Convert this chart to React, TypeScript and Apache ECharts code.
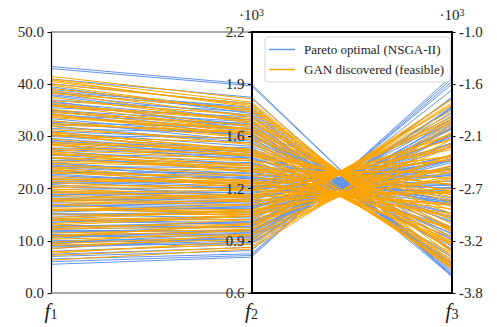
import React, { useEffect, useRef } from "react";
import * as echarts from "echarts";

// Tick values (f2, f3 shown in units of 10^3)
const F1_TICKS = [0, 10, 20, 30, 40, 50];
const F2_TICKS = [0.6, 0.92, 1.24, 1.56, 1.88, 2.2];
const F3_TICKS = [-3.8, -3.24, -2.68, -2.12, -1.56, -1.0];
const AXIS_SUBSCRIPTS = ["1", "2", "3"];
const SERIES_NAMES = ["Pareto optimal (NSGA-II)", "GAN discovered (feasible)"];

// Pareto optimal (NSGA-II)
const paretoF1 = [43.4, 43.0, 40.1, 39.5, 38.6, 37.8, 37.0, 36.2, 35.5, 34.8, 34.0, 33.4, 32.7, 32.0, 31.5, 30.8, 30.2, 29.6, 29.0, 28.4, 27.8, 27.2, 26.6, 26.0, 25.4, 24.8, 24.2, 23.6, 23.0, 22.5, 22.0, 21.5, 21.0, 20.4, 19.8, 19.3, 18.8, 18.2, 17.6, 17.0, 16.5, 16.0, 15.5, 15.0, 14.5, 14.0, 13.5, 13.0, 12.5, 12.0, 11.5, 11.0, 10.5, 10.0, 9.5, 9.0, 8.5, 8.0, 7.4, 7.0, 6.5, 6.0, 5.5,
  41.0, 38.0, 35.0, 33.0, 31.0, 29.3, 27.5, 25.8, 24.0, 22.8, 21.2, 19.5, 18.0, 16.8, 15.2, 13.8, 12.2, 11.2, 9.8, 8.8,
  36.8, 34.4, 30.0, 26.4, 20.8, 17.3, 14.2, 10.8, 39.0, 28.8, 23.3, 19.0, 12.8, 32.4, 25.0, 15.8, 9.2,
  18.5, 21.8, 15.0, 24.5, 11.8, 9.6, 38.4, 36.5, 35.0];
const paretoF2 = [1.88, 1.87, 1.76, 1.70, 1.74, 1.66, 1.71, 1.63, 1.68, 1.59, 1.64, 1.56, 1.61, 1.52, 1.58, 1.50, 1.55, 1.46, 1.49, 1.42, 1.47, 1.39, 1.43, 1.36, 1.40, 1.33, 1.37, 1.30, 1.34, 1.27, 1.31, 1.24, 1.28, 1.21, 1.25, 1.18, 1.22, 1.15, 1.19, 1.12, 1.16, 1.09, 1.13, 1.06, 1.10, 1.03, 1.07, 1.00, 1.04, 0.98, 1.01, 0.96, 0.99, 0.94, 0.97, 0.92, 0.95, 0.90, 0.88, 0.86, 0.84, 0.83, 0.82,
  1.80, 1.69, 1.62, 1.53, 1.54, 1.43, 1.44, 1.35, 1.32, 1.26, 1.23, 1.20, 1.14, 1.11, 1.08, 1.02, 1.01, 0.97, 0.93, 0.91,
  1.60, 1.57, 1.48, 1.38, 1.19, 1.13, 1.05, 0.95, 1.73, 1.45, 1.29, 1.17, 1.03, 1.57, 1.31, 1.12, 0.90,
  1.16, 1.25, 1.10, 1.30, 0.98, 0.93, 1.72, 1.66, 1.65];
const paretoF3 = [-3.63, -3.62, -3.60, -3.54, -3.58, -3.52, -3.53, -3.48, -3.49, -3.34, -3.50, -3.20, -3.47, -3.17, -3.42, -3.04, -3.30, -3.00, -3.22, -2.86, -3.09, -2.78, -3.11, -2.81, -2.98, -2.68, -2.95, -2.65, -2.83, -2.53, -2.82, -2.54, -2.73, -2.38, -2.60, -2.37, -2.64, -2.36, -2.51, -2.19, -2.48, -2.19, -2.36, -2.04, -2.38, -2.03, -2.20, -1.93, -2.22, -1.96, -2.10, -1.82, -2.09, -1.81, -1.96, -1.71, -1.98, -1.70, -1.62, -1.56, -1.53, -1.50, -1.47,
  -3.62, -3.56, -3.33, -3.23, -3.11, -2.95, -2.87, -2.81, -2.64, -2.67, -2.46, -2.47, -2.44, -2.13, -2.23, -2.02, -1.90, -2.04, -1.82, -1.93,
  -3.34, -3.20, -3.16, -2.81, -2.33, -2.32, -2.04, -1.86, -3.60, -3.03, -2.72, -2.33, -2.11, -3.40, -2.68, -2.37, -1.80,
  -2.53, -2.70, -2.40, -2.84, -2.11, -2.00, -3.62, -3.52, -3.50];

// GAN discovered (feasible)
const ganF1 = [41.5, 41.0, 40.5, 40.0, 39.2, 38.8, 38.2, 37.5, 36.9, 36.4, 35.8, 35.2, 34.6, 34.1, 33.6, 33.0, 32.5, 31.9, 31.3, 30.7, 30.1, 29.5, 28.9, 28.3, 27.7, 27.1, 26.5, 25.9, 25.3, 24.7, 24.1, 23.5, 22.9, 22.3, 21.7, 21.1, 20.5, 19.9, 19.3, 18.7, 18.1, 17.5, 16.9, 16.3, 15.7, 15.1, 14.5, 13.9, 13.3, 12.7, 12.1, 11.5, 10.9, 10.3, 9.7, 9.1, 8.5, 7.9, 7.2, 6.3,
  38.5, 36.0, 34.3, 32.2, 30.4, 28.6, 26.8, 25.0, 23.2, 21.4, 19.6, 17.8, 16.0, 14.2, 12.4, 10.6, 9.4,
  40.8, 27.4, 20.2, 13.0, 7.6, 30.5, 23.8, 17.0, 36.0, 11.0, 26.9,
  34.9, 30.9, 26.0, 21.9, 17.7, 14.0, 39.8, 24.0, 19.2, 15.9, 28.5, 33.8];
const ganF2 = [1.79, 1.77, 1.75, 1.76, 1.72, 1.68, 1.73, 1.65, 1.69, 1.62, 1.66, 1.60, 1.63, 1.57, 1.60, 1.55, 1.58, 1.51, 1.54, 1.48, 1.52, 1.45, 1.47, 1.41, 1.45, 1.38, 1.41, 1.35, 1.38, 1.32, 1.35, 1.29, 1.32, 1.26, 1.29, 1.23, 1.26, 1.20, 1.23, 1.17, 1.20, 1.14, 1.17, 1.11, 1.14, 1.08, 1.11, 1.05, 1.08, 1.02, 1.05, 0.99, 1.02, 0.96, 0.99, 0.93, 0.96, 0.90, 0.88, 0.87,
  1.64, 1.67, 1.55, 1.59, 1.46, 1.48, 1.36, 1.37, 1.27, 1.28, 1.18, 1.19, 1.09, 1.10, 1.00, 1.03, 0.95,
  1.74, 1.42, 1.24, 1.07, 0.92, 1.44, 1.24, 1.08, 1.60, 0.98, 1.34,
  1.58, 1.47, 1.39, 1.27, 1.16, 1.07, 1.71, 1.28, 1.19, 1.10, 1.44, 1.61];
const ganF3 = [-3.54, -3.48, -3.46, -3.50, -3.35, -3.29, -3.35, -3.21, -3.33, -3.11, -3.28, -3.10, -3.53, -3.02, -3.54, -2.95, -3.52, -2.91, -3.48, -2.80, -3.44, -2.77, -3.37, -2.64, -3.28, -2.63, -3.24, -2.51, -3.12, -2.48, -3.11, -2.37, -2.99, -2.37, -2.97, -2.24, -2.86, -2.21, -2.84, -2.11, -2.72, -2.09, -2.71, -1.97, -2.59, -1.95, -2.57, -1.84, -2.46, -1.79, -2.44, -1.76, -2.32, -1.72, -2.31, -2.07, -2.19, -2.02, -1.96, -1.99,
  -3.15, -3.26, -3.50, -3.06, -2.75, -3.40, -2.57, -3.10, -2.33, -2.95, -2.15, -2.73, -1.93, -2.55, -1.78, -2.34, -2.22,
  -3.40, -3.26, -2.26, -2.43, -2.15, -2.71, -2.86, -1.91, -3.52, -1.72, -2.49,
  -3.52, -2.82, -3.20, -2.33, -2.68, -1.88, -3.36, -2.90, -2.15, -2.50, -2.71, -3.14];

const BLUE = "#6495ED";
const ORANGE = "#FFA500";
const FONT = "'Liberation Serif', 'Times New Roman', serif";

function zip3(a: number[], b: number[], c: number[]) {
  return a.map((v, i) => [v, b[i], c[i]]);
}

function makeAxis(dim: number, ticks: number[], leftSide: boolean, lineWidth: number) {
  return {
    dim,
    type: "value",
    min: ticks[0],
    max: ticks[ticks.length - 1],
    name: `{f|f}{s|${AXIS_SUBSCRIPTS[dim]}}`,
    nameLocation: "start",
    nameGap: 4,
    nameTextStyle: {
      rich: {
        f: { fontFamily: FONT, fontStyle: "italic", fontSize: 21, color: "#222", lineHeight: 22 },
        s: { fontFamily: FONT, fontSize: 14, color: "#222", lineHeight: 12, verticalAlign: "bottom" },
      },
    },
    axisLine: { show: true, lineStyle: { color: "#000", width: lineWidth } },
    axisTick: {
      show: true,
      length: leftSide ? -3.5 : 3.5,
      customValues: ticks,
      lineStyle: { color: "#000", width: 1 },
    },
    axisLabel: {
      show: true,
      margin: leftSide ? -7 : 7,
      align: leftSide ? "right" : "left",
      customValues: ticks,
      formatter: (v: number) => v.toFixed(1),
      fontFamily: FONT,
      fontSize: 15,
      color: "#222",
    },
    splitLine: { show: false },
  };
}

const supText = (x: number) => ({
  type: "text", z: 50, x, y: 15,
  style: {
    text: "{a|·10}{b|3}", align: "center", verticalAlign: "middle",
    rich: {
      a: { fontFamily: FONT, fontSize: 15, fill: "#222", lineHeight: 16 },
      b: { fontFamily: FONT, fontSize: 10, fill: "#222", lineHeight: 10, verticalAlign: "top" },
    },
  },
});

export default function App() {
  const ref = useRef<HTMLDivElement>(null);
  useEffect(() => {
    const chart = echarts.init(ref.current!, null, { renderer: "svg" });
    const L = 51, R = 452, T = 32, B = 293, M = 251.5;
    chart.setOption({
      animation: false,
      backgroundColor: "#fff",
      parallel: {
        left: L,
        right: 497 - R,
        top: T,
        bottom: 327 - B,
        layout: "horizontal",
        axisExpandable: false,
      },
      parallelAxis: [
        makeAxis(0, F1_TICKS, true, 1.2),
        makeAxis(1, F2_TICKS, true, 2),
        makeAxis(2, F3_TICKS, false, 2),
      ],
      legend: {
        data: SERIES_NAMES,
        left: 265,
        top: 37,
        orient: "vertical",
        icon: "rect",
        itemWidth: 26,
        itemHeight: 1.5,
        itemGap: 7,
        itemStyle: { borderWidth: 0 },
        padding: [6, 6, 6, 4],
        borderColor: "#d4d4d4",
        borderWidth: 1,
        borderRadius: 3,
        backgroundColor: "rgba(255,255,255,0.85)",
        selectedMode: false,
        textStyle: { fontFamily: FONT, fontSize: 13, color: "#222", padding: [0, 0, 0, 4] },
      },
      graphic: [
        { type: "line", z: 50, shape: { x1: L, y1: T, x2: M, y2: T }, style: { stroke: "#555", lineWidth: 1.2 } },
        { type: "line", z: 50, shape: { x1: L, y1: B, x2: M, y2: B }, style: { stroke: "#555", lineWidth: 1.2 } },
        { type: "line", z: 50, shape: { x1: M - 1, y1: T, x2: R + 1, y2: T }, style: { stroke: "#000", lineWidth: 2 } },
        { type: "line", z: 50, shape: { x1: M - 1, y1: B, x2: R + 1, y2: B }, style: { stroke: "#000", lineWidth: 2 } },
        supText(M),
        supText(R),
      ],
      series: [
        {
          type: "parallel",
          name: SERIES_NAMES[0],
          color: BLUE,
          data: zip3(paretoF1, paretoF2, paretoF3),
          lineStyle: { color: BLUE, width: 1, opacity: 1 },
          inactiveOpacity: 1,
          activeOpacity: 1,
          z: 2,
        },
        {
          type: "parallel",
          name: SERIES_NAMES[1],
          color: ORANGE,
          data: zip3(ganF1, ganF2, ganF3),
          lineStyle: { color: ORANGE, width: 1, opacity: 1 },
          inactiveOpacity: 1,
          activeOpacity: 1,
          z: 3,
        },
      ],
    });
    return () => chart.dispose();
  }, []);
  return (
    <div
      ref={ref}
      style={{ position: "fixed", left: 0, top: 0, width: 497, height: 327 }}
    />
  );
}
